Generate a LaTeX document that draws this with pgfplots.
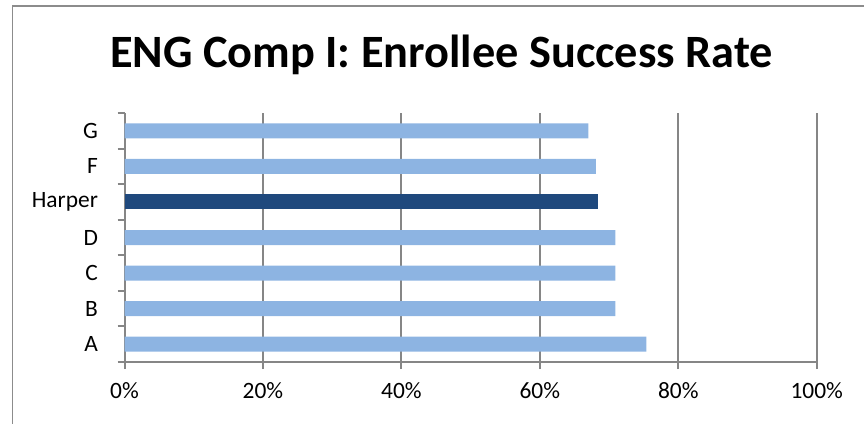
\documentclass[border=0pt]{standalone}
\usepackage{pgfplots}
\pgfplotsset{compat=1.18}
\usepackage{fontspec}
\setmainfont{Carlito}
\definecolor{lightbar}{HTML}{8DB4E2}
\definecolor{darkbar}{HTML}{1F497D}
\definecolor{gridgrey}{HTML}{868686}
\definecolor{framegrey}{HTML}{8C8C8C}
\begin{document}
\begin{tikzpicture}[x=1bp,y=1bp]
\useasboundingbox (0,0) rectangle (864,423);
\clip (0,0) rectangle (864,423);
\draw[framegrey, line width=1.8bp] (12.5,-10) -- (12.5,417) -- (880,417);
\node[anchor=base, font=\fontsize{46.5}{52}\selectfont\bfseries] at (441.5,356) {ENG Comp I: Enrollee Success Rate};
\begin{axis}[
  at={(124.5bp,61bp)}, anchor=south west,
  scale only axis, width=692.2bp, height=249bp,
  xmin=0, xmax=100, ymin=-0.5, ymax=6.5,
  axis x line*=bottom, axis y line*=left,
  axis line style={-, gridgrey, line width=2bp},
  xbar, bar width=15bp, bar shift=0pt,
  xtick={0,20,40,60,80,100},
  xticklabels={0\%,20\%,40\%,60\%,80\%,100\%},
  xmajorgrids, grid style={gridgrey, line width=2bp},
  ytick={0,1,2,3,4,5,6},
  yticklabels={A,B,C,D,Harper,F,G},
  minor ytick={-0.5,0.5,1.5,2.5,3.5,4.5,5.5,6.5},
  tick align=outside,
  major tick length=7bp, minor tick length=7bp,
  ytick style={draw=none},
  minor y tick style={draw=gridgrey, line width=2bp},
  xtick style={gridgrey, line width=2bp},
  ticklabel style={font=\fontsize{23.5}{26}\selectfont, text=black},
  xticklabel style={yshift=-10bp},
  yticklabel style={xshift=-16bp},
]
\addplot[fill=lightbar, draw=none] coordinates {(75.4,0) (70.9,1) (70.9,2) (70.9,3) (68.1,5) (67.0,6)};
\addplot[fill=darkbar, draw=none] coordinates {(68.4,4)};
\end{axis}
\end{tikzpicture}
\end{document}
